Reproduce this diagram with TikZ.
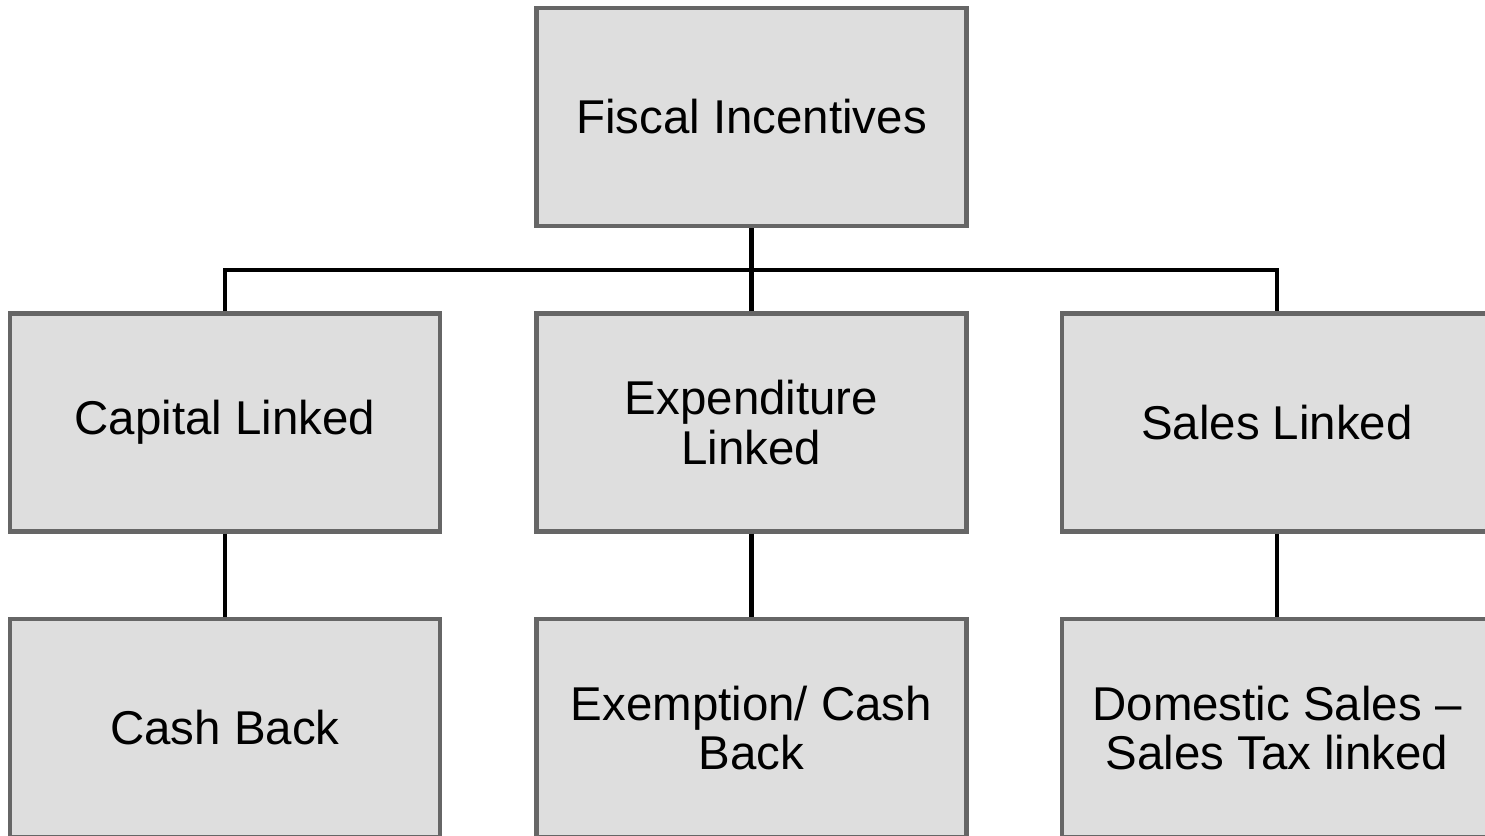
\documentclass[tikz,border=0pt]{standalone}
\usepackage{fontspec}
\setmainfont{Liberation Sans}
\definecolor{boxfill}{HTML}{DEDEDE}
\definecolor{boxline}{HTML}{666666}

\tikzset{
  box/.style={draw=boxline, fill=boxfill, line width=2.3pt, minimum width=8.6cm,
    minimum height=4.36cm, inner sep=0pt, align=center,
    font=\fontsize{27}{28}\selectfont},
  link/.style={line width=2.3pt, black}
}

\begin{document}
\begin{tikzpicture}
\useasboundingbox (0,0) rectangle (29.7,16.72);
\clip (0,0) rectangle (29.7,16.72);
% top level
\node[box] (fi) at (15.03, 14.38) {Fiscal Incentives};
% second row
\node[box] (cl) at (4.5, 8.27) {Capital Linked};
\node[box] (el) at (15.03, 8.27) {Expenditure\\Linked};
\node[box] (sl) at (25.54, 8.27) {Sales Linked};
% third row
\node[box] (cb) at (4.5, 2.16) {Cash Back};
\node[box] (ec) at (15.03, 2.16) {Exemption/ Cash\\Back};
\node[box] (ds) at (25.54, 2.16) {Domestic Sales --\\Sales Tax linked};
% connectors
\coordinate (bus) at (0, 11.32);
\draw[link] (fi.south) -- (el.north);
\draw[link] (cl.north) -- (cl.north |- bus) -- (sl.north |- bus) -- (sl.north);
\draw[link] (cl.south) -- (cb.north);
\draw[link] (el.south) -- (ec.north);
\draw[link] (sl.south) -- (ds.north);
\end{tikzpicture}
\end{document}
